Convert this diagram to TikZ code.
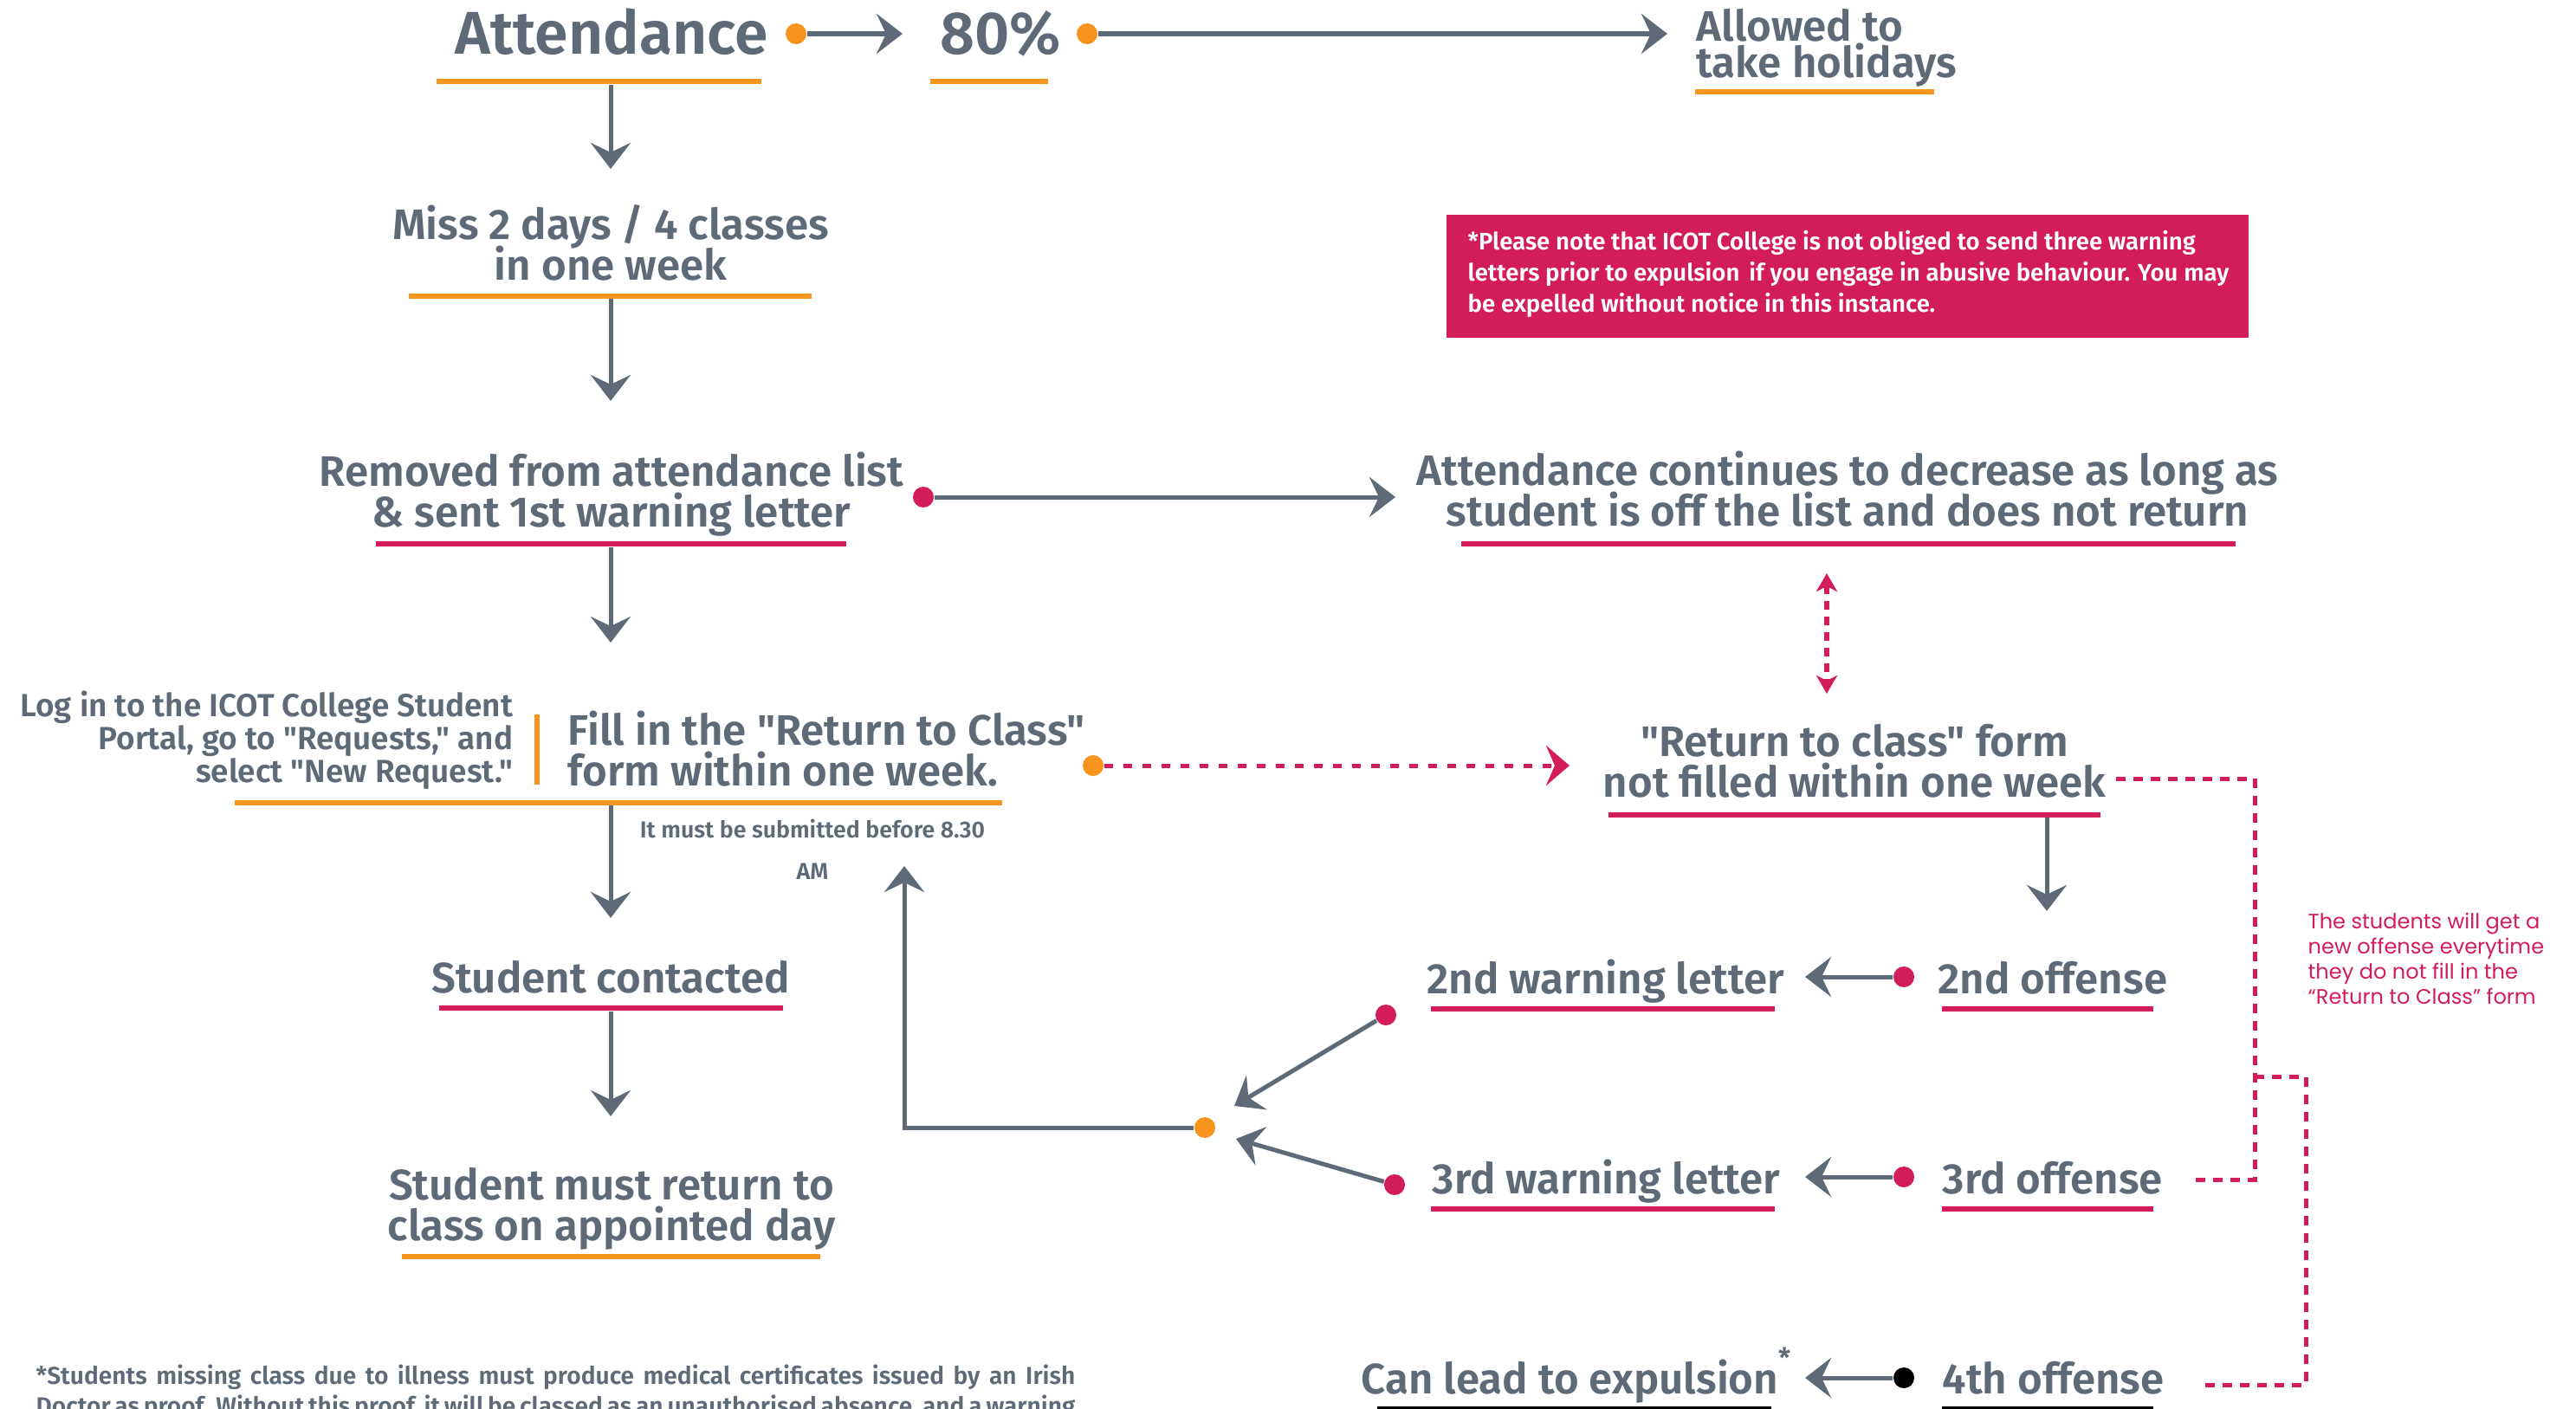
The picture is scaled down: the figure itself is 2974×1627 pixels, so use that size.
\documentclass[tikz,border=0pt]{standalone}
\usepackage{fontspec}
\setmainfont{Fira Sans}
\newfontfamily\semib{Fira Sans SemiBold}
\newfontfamily\popp{Poppins}
\usetikzlibrary{arrows.meta}
\definecolor{slate}{HTML}{5E6A78}
\definecolor{amber}{HTML}{F7941D}
\definecolor{rosered}{HTML}{D31C5A}
% fixed leading: lines keep their baseline distance even when glyphs crowd
\newcommand{\fixedlead}{\lineskiplimit=-100pt\lineskip=0pt\relax}
\tikzset{
  lbl/.style={inner sep=0pt, text=slate, align=center,
    font={\semib\fontsize{14pt}{13.1pt}\selectfont\fixedlead}},
  big/.style={inner sep=0pt, text=slate,
    font={\semib\fontsize{19.8pt}{20pt}\selectfont}},
  uline/.style={rectangle, fill=#1, inner sep=0pt, minimum height=0.06cm},
  dot/.style={circle, fill=#1, inner sep=0pt, minimum size=0.24cm},
  conn/.style={draw=slate, line width=0.05cm,
    -{Stealth[length=0.30cm, width=0.46cm, inset=0.11cm]}},
  dashconn/.style={draw=rosered, line width=0.05cm,
    dash pattern=on 0.10cm off 0.12cm,
    -{Stealth[length=0.27cm, width=0.46cm, inset=0.1cm]}},
  twoway/.style={draw=rosered, line width=0.055cm,
    dash pattern=on 0.10cm off 0.08cm,
    {Stealth[length=0.21cm, width=0.24cm, inset=0.06cm]}-{Stealth[length=0.21cm, width=0.24cm, inset=0.06cm]}},
  bracket/.style={draw=rosered, line width=0.05cm, dash pattern=on 0.11cm off 0.09cm},
  footline/.style={inner sep=0pt, text=slate, anchor=base west,
    font={\semib\fontsize{8.0pt}{10pt}\selectfont}},
}
\begin{document}
\fixedlead
\begin{tikzpicture}[x=0.01cm, y=-0.01cm]
\useasboundingbox (0,0) rectangle (2974,1627);
\clip (0,0) rectangle (2974,1627);

% ---- top row: attendance threshold
\node[big, anchor=base] (att) at (706,63) {Attendance};
\node[uline=amber, minimum width=3.75cm] (uatt) at (691.5,94) {};
\node[dot=amber] (d1) at (919,39) {};
\node[big, anchor=base] (pct) at (1155,63) {80\%};
\node[uline=amber, minimum width=1.36cm] (upct) at (1142,94) {};
\node[dot=amber] (d2) at (1255,39) {};
\node[lbl, align=left, anchor=base west, font={\semib\fontsize{14pt}{12.2pt}\selectfont\fixedlead}] (hol) at (1958,90) {Allowed to\\take holidays};
\node[uline=amber, minimum width=2.76cm] (uhol) at (2095,106) {};
\coordinate (t1) at (1042,39);
\coordinate (t2) at (1925,39);
\draw[conn] (d1) -- (t1);
\draw[conn] (d2) -- (t2);

% ---- left column
\node[lbl, anchor=base] (miss) at (705,323) {Miss 2 days / 4 classes\\in one week};
\node[uline=amber, minimum width=4.65cm] (umiss) at (704.5,341.5) {};
\coordinate (t3) at (705,195);
\draw[conn] (uatt.south -| t3) -- (t3);

\node[lbl, anchor=base] (rem) at (706,608) {Removed from attendance list\\\& sent 1st warning letter};
\node[uline=rosered, minimum width=5.43cm] (urem) at (705.5,628) {};
\coordinate (t4) at (705,463);
\draw[conn] (umiss.south -| t4) -- (t4);

\node[dot=rosered] (d3) at (1066,574) {};
\coordinate (t5) at (1611,574);
\draw[conn] (d3) -- (t5);
\node[lbl, anchor=base] (dec) at (2133,607) {Attendance continues to decrease as long as\\student is off the list and does not return};
\node[uline=rosered, minimum width=8.94cm] (udec) at (2134,628) {};

\node[rectangle, fill=rosered, inner sep=0pt, minimum width=9.26cm, minimum height=1.42cm, anchor=north west] (warnbox) at (1669,247) {};
\node[inner sep=0pt, text=white, align=left, anchor=base west,
  font={\semib\fontsize{7.85pt}{10.2pt}\selectfont\fixedlead}] (warntext) at (1694,360)
  {*Please note that ICOT College is not obliged to send three warning\\letters prior to expulsion\hspace{0.15em} if you engage in abusive behaviour. You may\\be expelled without notice in this instance.};

\coordinate (t6) at (705,742);
\draw[conn] (urem.south -| t6) -- (t6);

\node[inner sep=0pt, text=slate, align=right, anchor=base east,
  font={\semib\fontsize{10.5pt}{10.7pt}\selectfont\fixedlead}] (login) at (593,903)
  {Log in to the ICOT College Student\\Portal, go to "Requests," and\\select "New Request."};
\node[rectangle, fill=amber, inner sep=0pt, minimum width=0.06cm, minimum height=0.81cm] (bar) at (620,865.5) {};
\node[lbl, align=left, anchor=base west] (fill) at (655,907) {Fill in the "Return to Class"\\form within one week.};
\node[uline=amber, minimum width=8.86cm] (ufill) at (714,926.5) {};
\node[inner sep=0pt, text=slate, align=center, anchor=base,
  font={\semib\fontsize{7.6pt}{13.4pt}\selectfont\fixedlead}] (before) at (938,1015)
  {It must be submitted before 8.30\\AM};

\node[dot=amber] (d4) at (1262,884) {};
\coordinate (t7) at (1812,884);
\draw[dashconn] (d4) -- (t7);

\coordinate (v1) at (2109,662);
\coordinate (v2) at (2109,801);
\draw[twoway] (v1) -- (v2);

\node[lbl, anchor=base] (rtc) at (2141,920) {"Return to class" form\\not filled within one week};
\node[uline=rosered, minimum width=5.68cm] (urtc) at (2141,940.5) {};

\coordinate (t8) at (705,1060);
\draw[conn] (ufill.south -| t8) -- (t8);

\node[lbl, anchor=base] (cont) at (705,1146) {Student contacted};
\node[uline=rosered, minimum width=3.97cm] (ucont) at (705.5,1164) {};
\coordinate (t9) at (705,1289);
\draw[conn] (ucont.south -| t9) -- (t9);

\node[lbl, anchor=base] (ret) at (706,1432) {Student must return to\\class on appointed day};
\node[uline=amber, minimum width=4.83cm] (uret) at (705.5,1450.5) {};

% ---- return loop
\node[dot=amber] (d5) at (1391,1302) {};
\coordinate (t10) at (1044,1000);
\draw[conn] (d5) -| (t10);

\node[dot=rosered] (d6) at (1600,1172) {};
\node[dot=rosered] (d7) at (1610,1368) {};
\coordinate (t11) at (1425,1277);
\coordinate (t12) at (1427,1315);
\draw[conn] (d6) -- (t11);
\draw[conn] (d7) -- (t12);

% ---- offenses
\coordinate (t13) at (2363,1052);
\draw[conn] (urtc.south -| t13) -- (t13);

\node[lbl, anchor=base west] (w2) at (1647,1147) {2nd warning letter};
\node[uline=rosered, minimum width=3.97cm] (uw2) at (1850.5,1165) {};
\node[lbl, anchor=base west] (o2) at (2237,1147) {2nd offense};
\node[uline=rosered, minimum width=2.44cm] (uo2) at (2364,1165) {};
\node[dot=rosered] (d8) at (2198,1128) {};
\coordinate (t14) at (2084,1128);
\draw[conn] (d8) -- (t14);

\node[lbl, anchor=base west] (w3) at (1653,1378) {3rd warning letter};
\node[uline=rosered, minimum width=3.97cm] (uw3) at (1850.5,1396) {};
\node[lbl, anchor=base west] (o3) at (2242,1378) {3rd offense};
\node[uline=rosered, minimum width=2.44cm] (uo3) at (2364,1396) {};
\node[dot=rosered] (d9) at (2198,1359) {};
\coordinate (t15) at (2084,1359);
\draw[conn] (d9) -- (t15);

\node[lbl, anchor=base east] (exp) at (2068,1609) {Can lead to expulsion\raisebox{0.6em}{\fontsize{9pt}{9pt}\selectfont *}};
\node[uline=black, minimum width=4.55cm] (uexp) at (1817.5,1627) {};
\node[lbl, anchor=base west] (o4) at (2242,1609) {4th offense};
\node[uline=black, minimum width=2.44cm] (uo4) at (2364,1627) {};
\node[dot=black] (d10) at (2198,1591) {};
\coordinate (t16) at (2084,1591);
\draw[conn] (d10) -- (t16);

% ---- dashed brackets on the right
\coordinate (b1) at (2443,899);
\coordinate (b2) at (2603,1362);
\coordinate (b3) at (2534,1362);
\coordinate (b4) at (2603,1243);
\coordinate (b5) at (2662,1599);
\coordinate (b6) at (2537,1599);
\draw[bracket] (b1) -| (b2) -- (b3);
\draw[bracket] (b4) -| (b5) -- (b6);

\node[inner sep=0pt, text=rosered, align=left, anchor=base west,
  font={\popp\fontsize{6.85pt}{8.2pt}\selectfont\fixedlead}] (note) at (2664,1159)
  {The students will get a\\new offense everytime\\they do not fill in the\\“Return to Class” form};

% ---- footnote
\node[footline] (foot1) at (41,1598)
  {\makebox[11.99cm][s]{*Students missing class due to illness must produce medical certificates issued by an Irish}};
\node[footline] (foot2) at (41,1633)
  {\makebox[11.99cm][s]{Doctor as proof. Without this proof, it will be classed as an unauthorised absence, and a warning}};
\end{tikzpicture}
\end{document}
